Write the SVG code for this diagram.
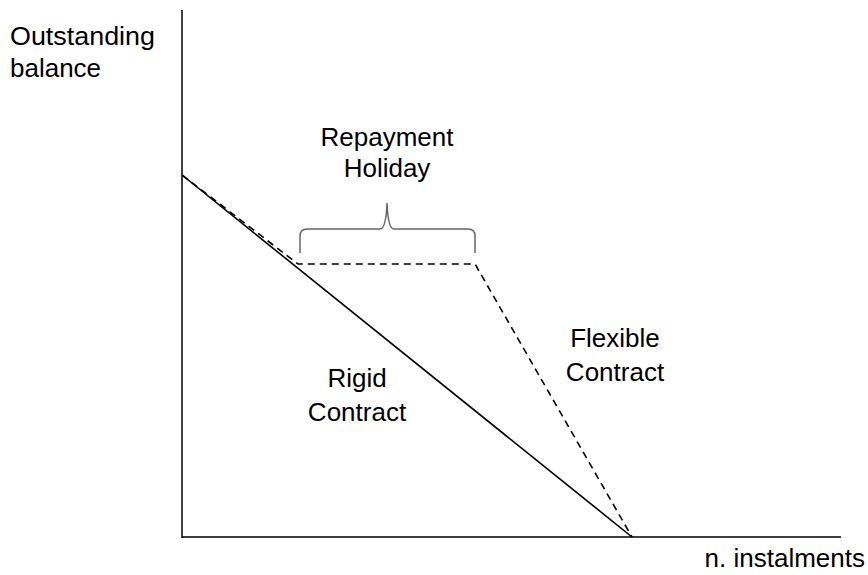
<svg xmlns="http://www.w3.org/2000/svg" width="868" height="575" viewBox="0 0 868 575">
<style>
text{font-family:"Liberation Sans",Arial,sans-serif;font-size:26px;fill:#000}
.ax{stroke:#000;stroke-width:1.5;fill:none}
.solid{stroke:#000;stroke-width:1.6;fill:none}
.dash{stroke:#000;stroke-width:1.6;fill:none;stroke-dasharray:7,5}
.brace{stroke:#666;stroke-width:1.5;fill:none}
</style>
<rect width="868" height="575" fill="#fff"/>
<g id="axes">
<line class="ax" x1="182" y1="10" x2="182" y2="538"/>
<line class="ax" x1="182" y1="537" x2="841" y2="537"/>
</g>
<g id="connectors">
<line class="solid" x1="182" y1="175" x2="632" y2="537"/>
<polyline class="dash" points="182,175 298,264 475,264 632,537"/>
</g>
<g id="brace">
<path class="brace" d="M300,253 V236 Q300,229 307,229 H380 Q386,229 387,203 Q388,229 394,229 H468 Q475,229 475,236 V253"/>
</g>
<g id="labels">
<text x="10" y="45" textLength="145" lengthAdjust="spacingAndGlyphs">Outstanding</text>
<text x="10" y="77">balance</text>
<text x="387" y="146" text-anchor="middle">Repayment</text>
<text x="387" y="177" text-anchor="middle">Holiday</text>
<text x="357" y="387" text-anchor="middle">Rigid</text>
<text x="357" y="421" text-anchor="middle">Contract</text>
<text x="615" y="347" text-anchor="middle">Flexible</text>
<text x="615" y="381" text-anchor="middle">Contract</text>
<text x="865" y="567" text-anchor="end">n. instalments</text>
</g>
</svg>
